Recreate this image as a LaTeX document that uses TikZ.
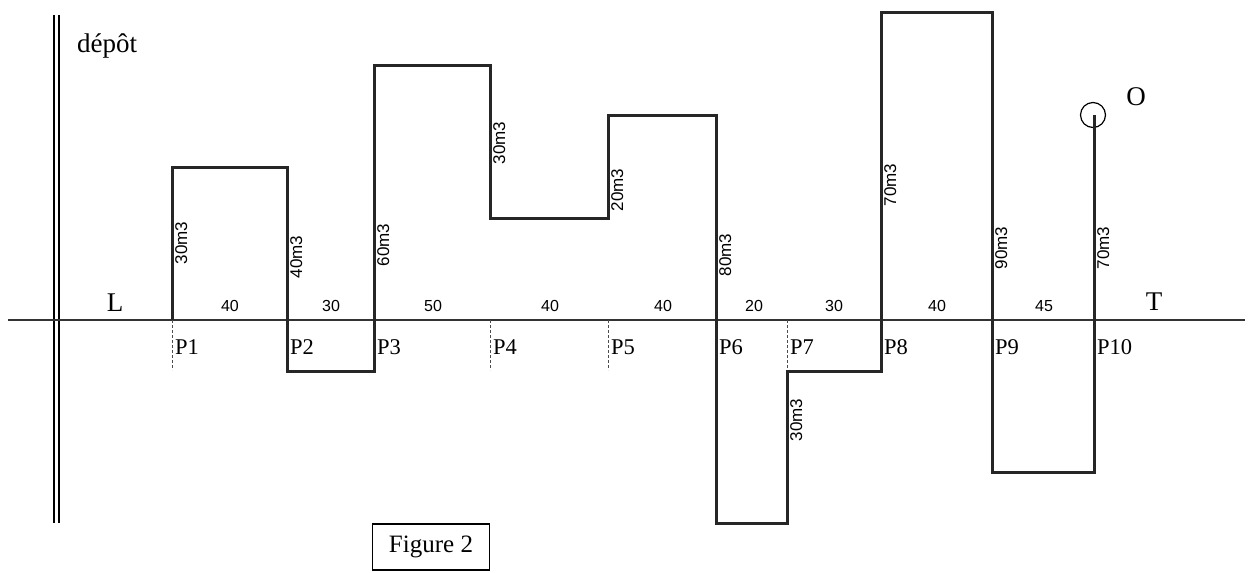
\documentclass[tikz,border=0pt]{standalone}
\usepackage{fontspec}
\setmainfont{Liberation Serif}
\newfontfamily\numf{Liberation Sans}
\begin{document}
\begin{tikzpicture}[x=1pt,y=-1pt,
  route/.style={line width=3pt,line join=miter,color=black!85},
  axisline/.style={line width=1.6pt,color=black!80},
  tick/.style={dash pattern=on 3pt off 2pt,line width=1pt,color=black!70},
  qty/.style={rotate=90,anchor=north,inner sep=2pt,font=\numf\fontsize{17}{17}\selectfont},
  dist/.style={anchor=base,inner sep=0pt,font=\numf\fontsize{16}{16}\selectfont},
  plab/.style={anchor=west,inner sep=2pt,font=\fontsize{22.5}{22.5}\selectfont},
  big/.style={inner sep=0pt,font=\fontsize{27}{27}\selectfont}]
\useasboundingbox (0,0) rectangle (1251,573);
% depot double line
\draw[line width=1.3pt] (54,15) -- (54,523);
\draw[line width=1.3pt] (59,15) -- (59,523);
\node[big,anchor=west] (depot) at (77,46) {dépôt};
% axis
\coordinate (A0) at (8,320);
\coordinate (A1) at (1245,320);
\draw[axisline] (A0) -- (A1);
% points
\foreach \n/\x in {1/172,2/287,3/374,4/490,5/608,6/716,7/787,8/881,9/992,10/1094}
  \coordinate (P\n) at (\x,320);
% ticks
\draw[tick] (P1) -- ++(0,50);
\draw[tick] (P4) -- ++(0,50);
\draw[tick] (P5) -- ++(0,50);
\draw[tick] (P7) -- ++(0,51);
% route
\node[draw,circle,minimum size=25pt,inner sep=0pt,line width=1.2pt] (O) at (1093,115) {};
\draw[route] (P1) -- (172,167) -- (287,167) -- (287,371) -- (374,371) -- (374,65)
  -- (490,65) -- (490,218) -- (608,218) -- (608,115) -- (716,115) -- (716,523)
  -- (787,523) -- (787,371) -- (881,371) -- (881,12) -- (992,12) -- (992,472)
  -- (1094,472) -- (1094,115);
\node[big] (Olab) at (1136,97) {O};
% quantities
\node[qty] (q1) at (173,243) {30m3};
\node[qty] (q2) at (288,257) {40m3};
\node[qty] (q3) at (375,245) {60m3};
\node[qty] (q4) at (491,143) {30m3};
\node[qty] (q5) at (609,190) {20m3};
\node[qty] (q6) at (717,255) {80m3};
\node[qty] (q7) at (788,420) {30m3};
\node[qty] (q8) at (882,185) {70m3};
\node[qty] (q9) at (993,248) {90m3};
\node[qty] (q10) at (1095,248) {70m3};
% distances
\foreach \x/\t in {230/40,331/30,433/50,550/40,663/40,754/20,834/30,937/40,1044/45}
  \node[dist] at (\x,311) {\t};
\node[big,anchor=base] (L) at (115,311) {L};
\node[big,anchor=base] (T) at (1154,310) {T};
% P labels
\foreach \n in {1,...,10}
  \node[plab] at ([xshift=1pt,yshift=-27pt]P\n) {P\n};
% figure caption
\node[draw,line width=1.2pt,minimum width=117pt,minimum height=46pt,inner sep=0pt,font=\fontsize{25}{25}\selectfont] (fig) at (431,547) {Figure 2};
\end{tikzpicture}
\end{document}
